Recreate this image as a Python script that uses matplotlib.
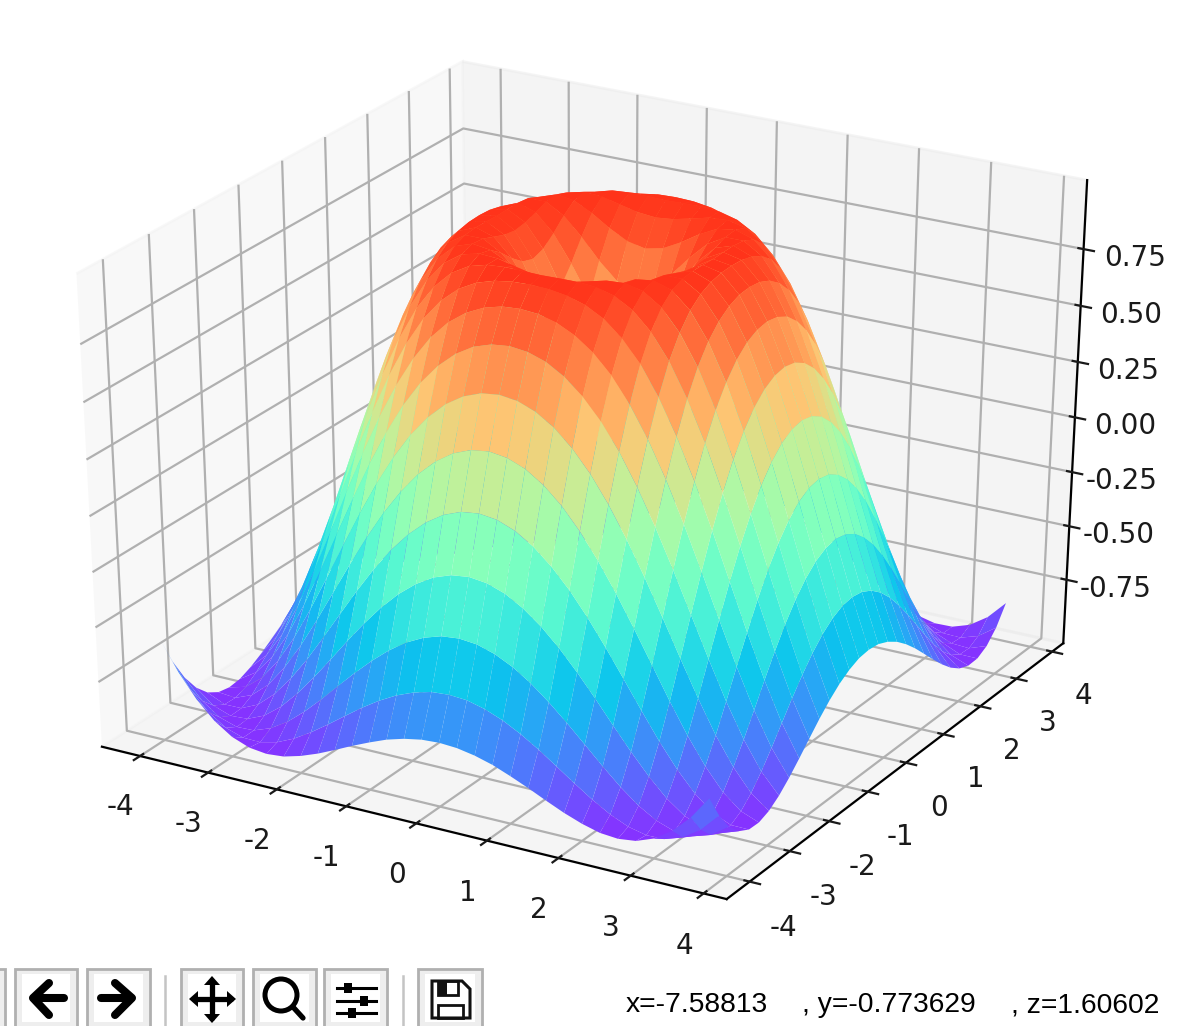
import numpy as np
import matplotlib
matplotlib.use("Agg")
import matplotlib.pyplot as plt
from matplotlib.patches import Rectangle, Circle, Polygon
from matplotlib.colors import ListedColormap

# Surface heights read as one quadrant of the radially symmetric dome.
# Row i holds columns j = i .. 16 (grid step 0.25); the other quadrants mirror it.
grid_offsets = [0, .25, .5, .75, 1, 1.25, 1.5, 1.75, 2, 2.25, 2.5, 2.75, 3, 3.25, 3.5, 3.75, 4]
height_rows = [
    [0.000, .247, .479, .682, .841, .949, .997, .984, .909, .778, .598, .382, .141, -.108, -.351, -.572, -.757],
    [.346, .530, .711, .858, .957, .999, .981, .903, .769, .588, .371, .131, -.118, -.359, -.578, -.762],
    [.650, .784, .899, .975, 1.000, .969, .882, .743, .558, .340, .100, -.146, -.384, -.599, -.777],
    [.873, .949, .994, .994, .945, .844, .696, .507, .287, .049, -.193, -.424, -.631, -.800],
    [.988, .999, .973, .903, .787, .628, .434, .214, -.021, -.256, -.478, -.674, -.832],
    [.981, .928, .836, .706, .538, .340, .120, -.108, -.334, -.544, -.725, -.867],
    [.852, .743, .598, .424, .224, .009, -.211, -.424, -.618, -.782, -.905],
    [.618, .465, .287, .090, -.118, -.326, -.522, -.697, -.840, -.941],
    [.308, .131, -.060, -.256, -.448, -.625, -.777, -.895, -.971],
    [-.040, -.220, -.400, -.572, -.725, -.852, -.943, -.993],
    [-.384, -.544, -.692, -.818, -.917, -.979, -1.000],
    [-.680, -.800, -.899, -.966, -.998, -.990],
    [-.891, -.959, -.995, -.996, -.959],
    [-.993, -.998, -.969, -.904],
    [-.972, -.914, -.824],
    [-.830, -.718],
    [-.586],
]
x_ticks = [-4, -3, -2, -1, 0, 1, 2, 3, 4]
y_ticks = [-4, -3, -2, -1, 0, 1, 2, 3, 4]
z_ticks = [-0.75, -0.50, -0.25, 0.00, 0.25, 0.50, 0.75]
status_parts = ["x=-7.58813", ", y=-0.773629", ", z=1.60602"]

plt.rcParams["axes.unicode_minus"] = False
W, H = 1186, 1026
DPI = 200
fig = plt.figure(figsize=(W / DPI, H / DPI), dpi=DPI)

quadrant = np.zeros((17, 17))
for i, row in enumerate(height_rows):
    for k, v in enumerate(row):
        quadrant[i, i + k] = v
        quadrant[i + k, i] = v
# the surface runs from -4 up to 3.75: the last row and column stop short of +4
signed = np.array([-g for g in grid_offsets[:0:-1]] + list(grid_offsets[:-1]))
idx = np.abs(np.arange(len(signed)) - 16)
Z = quadrant[np.ix_(idx, idx)]
X, Y = np.meshgrid(signed, signed)

# rainbow, lifted slightly per channel as the reference's colours are
base = plt.get_cmap("rainbow")(np.linspace(0, 1, 256))
base[:, 0] = 0.04 + 0.96 * base[:, 0]
base[:, 1] = 0.20 + 0.80 * base[:, 1]
base[:, 2] = 0.10 + 0.90 * base[:, 2]
washed = ListedColormap(base)

rect = [-95 / W, 1 - 979 / H, 1334 / W, 999 / H]
ax = fig.add_axes(rect, projection="3d")
ax.apply_aspect = lambda position=None: ax._set_position(ax.get_position(original=True), "active")
ax.set_box_aspect((1, 1, 1), zoom=0.909)
ax.view_init(elev=30, azim=-60)
ax.plot_surface(X, Y, Z, rstride=1, cstride=1, cmap=washed)
ax.set_xlim(-4.565, 4.315)
ax.set_ylim(-4.565, 4.315)
ax.set_zlim(-1.05, 1.05)
ax.set_xticks(x_ticks)
ax.set_yticks(y_ticks)
ax.set_zticks(z_ticks)
ax.set_zticklabels([f"{t:.2f}" for t in z_ticks])
ax.tick_params(labelsize=10, colors="#1a1a1a")
ax.yaxis.set_pane_color((0.92, 0.92, 0.92, 0.5))

# Toolbar, drawn in pixel coordinates
tb = fig.add_axes([0, 0, 1, 1], zorder=5)
tb.set_xlim(0, W)
tb.set_ylim(H, 0)
tb.axis("off")
tb.patch.set_alpha(0)
for x0, x1 in [(-40, 5), (15, 77), (87, 150), (181, 243), (253, 316), (324, 387), (418, 482)]:
    tb.add_patch(Rectangle((x0, 969), x1 - x0, 70, fc="#eeeeee", ec="#b0b0b0", lw=1.0))
    tb.add_patch(Rectangle((x0 + 7, 974), x1 - x0 - 14, 48, fc="white", ec="none"))
for sx in [165, 403]:
    tb.plot([sx, sx], [976, 1026], color="#c4c4c4", lw=0.9)
ink = dict(color="black", solid_capstyle="round", solid_joinstyle="round")
tb.plot([64, 34], [998, 998], lw=2.9, **ink)
tb.plot([49, 33, 49], [983, 998, 1015], lw=2.9, **ink)
tb.plot([101, 131], [998, 998], lw=2.9, **ink)
tb.plot([115, 132, 115], [983, 998, 1015], lw=2.9, **ink)
tb.plot([194, 231], [999, 999], lw=1.9, **ink)
tb.plot([212, 212], [981, 1018], lw=1.9, **ink)
for tri in [[(189, 999), (198, 991), (198, 1007)], [(236, 999), (227, 991), (227, 1007)],
            [(212, 976), (204, 985), (220, 985)], [(212, 1023), (204, 1014), (220, 1014)]]:
    tb.add_patch(Polygon(tri, fc="black", ec="none"))
tb.add_patch(Circle((281, 995), 16, fc="none", ec="black", lw=1.8))
tb.plot([293, 303], [1007, 1018], lw=1.9, **ink)
for sy, kx in [(988, 348), (1001, 364), (1013, 352)]:
    tb.plot([337, 376], [sy, sy], color="black", lw=1.1)
    tb.add_patch(Rectangle((kx - 4, sy - 5), 8, 10, fc="black", ec="none"))
tb.add_patch(Polygon([(432, 981), (462, 981), (470, 989), (470, 1018), (432, 1018)],
                     closed=True, fc="none", ec="#111111", lw=1.1))
tb.add_patch(Rectangle((438, 981), 20, 14, fc="none", ec="#111111", lw=1.0))
tb.add_patch(Rectangle((438, 981), 9, 14, fc="#111111", ec="none"))
tb.add_patch(Rectangle((438, 1005), 25, 13, fc="none", ec="#111111", lw=1.0))
for tx, s in zip([626, 802, 1011], status_parts):
    tb.text(tx, 1012, s, family="Liberation Sans", fontsize=10.2, color="black", va="baseline", ha="left")

fig.savefig("out.png", dpi=DPI)
